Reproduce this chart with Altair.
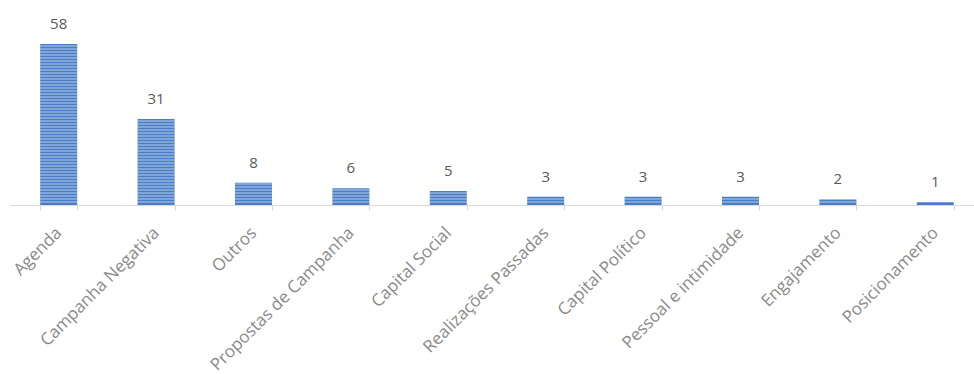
import altair as alt
import pandas as pd

categories = ["Agenda", "Campanha Negativa", "Outros", "Propostas de Campanha",
              "Capital Social", "Realizações Passadas", "Capital Político",
              "Pessoal e intimidade", "Engajamento", "Posicionamento"]
values = [58, 31, 8, 6, 5, 3, 3, 3, 2, 1]

df = pd.DataFrame({"cat": categories, "val": values})

# stripe levels for the horizontal-line fill pattern (one every ~3px)
stripe_step = 58 / 161 * 3
rows = []
for c, v in zip(categories, values):
    k = 1
    while k * stripe_step < v:
        rows.append({"cat": c, "lvl": k * stripe_step})
        k += 1
stripes = pd.DataFrame(rows)

xscale = alt.Scale(domain=categories, range=[0, 974], paddingInner=0.62, paddingOuter=0.31)
yscale = alt.Scale(domain=[0, 58], nice=False, zero=True)

xaxis = alt.Axis(title=None, labelAngle=-45, labelAlign="right", labelBaseline="middle",
                 labelPadding=20, labelColor="#8a8a8a", labelFont="Open Sans",
                 labelFontSize=17, labelLimit=500, labelOverlap=False,
                 domainColor="#d9d9d9", tickColor="#d9d9d9",
                 tickSize=5, tickBand="extent", grid=False)

base = alt.Chart(df).encode(
    x=alt.X("cat:N", scale=xscale, axis=xaxis, sort=categories),
    y=alt.Y("val:Q", scale=yscale, axis=None),
)

bars = base.mark_bar(color="#4a7fc8")
labels = base.mark_text(baseline="bottom", dy=-12, fontSize=15, color="#595959",
                        font="Open Sans").encode(text="val:Q")

lines = alt.Chart(stripes).mark_tick(color="white", thickness=1, size=37, opacity=0.6).encode(
    x=alt.X("cat:N", scale=xscale, sort=categories, axis=xaxis),
    y=alt.Y("lvl:Q", scale=yscale, axis=None),
)

chart = alt.layer(bars, lines, labels).properties(
    width=964, height=161,
    autosize=alt.AutoSizeParams(type="none"),
    padding={"left": 10, "top": 44, "right": 0, "bottom": 169},
    background="white",
).configure_view(stroke=None)

chart.save("out.html", embed_options={"renderer": "svg", "actions": False})
